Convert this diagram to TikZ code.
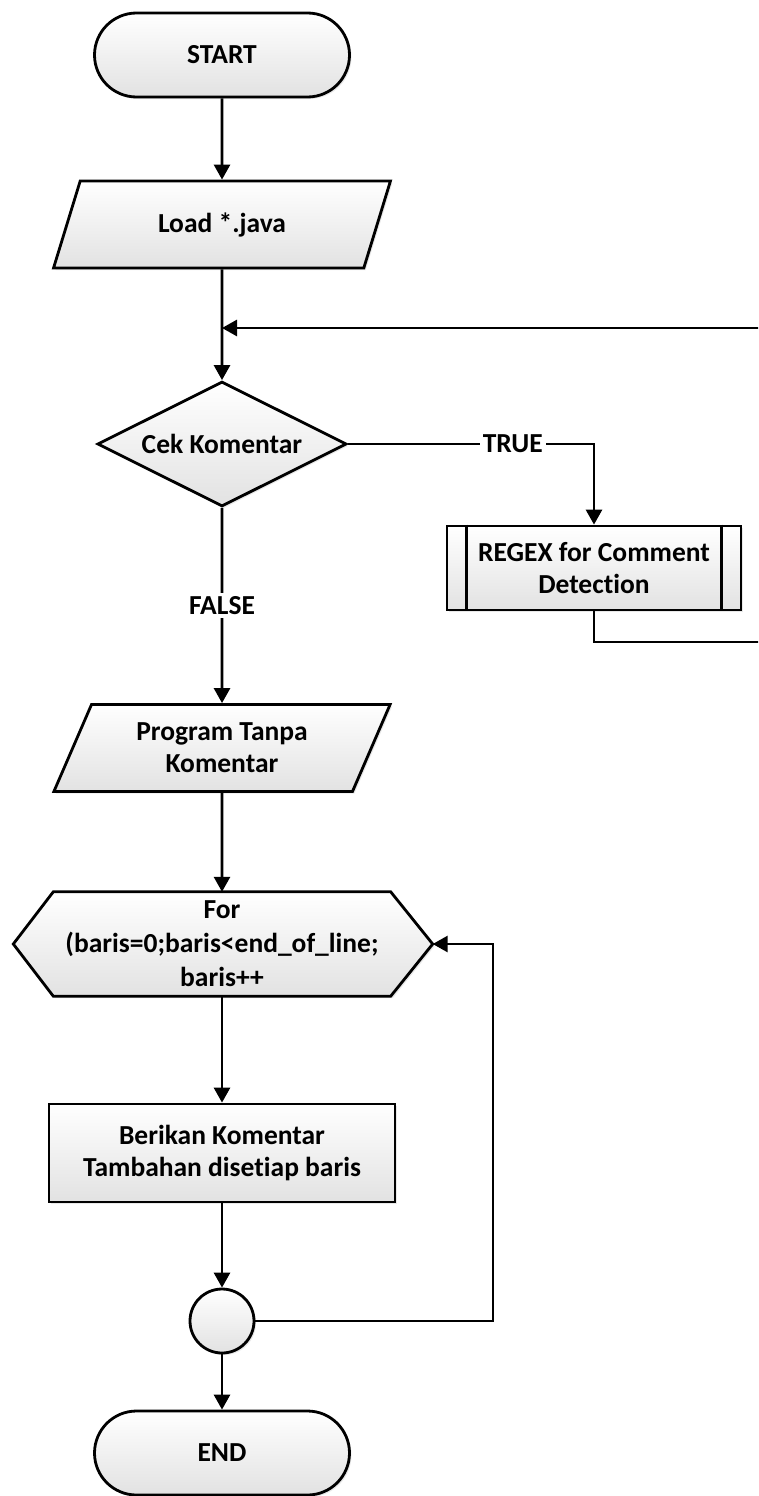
\documentclass[tikz,border=0pt]{standalone}
\usepackage{fontspec}
\setmainfont{Carlito}[Ligatures=NoCommon]
\usetikzlibrary{shapes.geometric,shadows,arrows.meta,backgrounds,calc}
\definecolor{boxgray}{RGB}{226,226,226}

\begin{document}
\begin{tikzpicture}[x=1pt,y=-1pt,
  font=\fontsize{27.5}{32}\selectfont\bfseries,
  outline/.style={draw=black, line width=2.8pt, top color=white, bottom color=boxgray,
    drop shadow={opacity=0.18, shadow xshift=2pt, shadow yshift=-2pt}},
  box/.style={outline, align=center, inner sep=0pt},
  terminal/.style={box, rounded corners=42pt, minimum width=255pt, minimum height=84pt},
  io/.style={box, trapezium, trapezium left angle=63.7, trapezium right angle=116.3,
    trapezium stretches=true, minimum width=337pt, minimum height=87pt},
  decision/.style={box, diamond, aspect=2, minimum width=249pt, minimum height=125pt},
  process/.style={box, minimum width=346pt, minimum height=98pt},
  predef/.style={box, minimum width=294pt, minimum height=84pt},
  junction/.style={box, circle, minimum size=64pt},
  arr/.style={line width=2.8pt, -{Triangle[length=15pt,width=16pt]}},
  lbl/.style={fill=white, inner sep=3pt}
]
\useasboundingbox (0,0) rectangle (758,1496);
\clip (0,0) rectangle (758,1496);

% flowchart nodes
\node[terminal] (start) at (222,55) {START};
\node[io] (load) at (222,224.5) {Load *.java};
\coordinate (join) at (222,328);
\node[decision] (cek) at (222,444) {Cek Komentar};
\node[predef] (regex) at (594,568) {REGEX for Comment\\Detection};
\draw[line width=2.8pt] ([xshift=21pt]regex.north west) -- ([xshift=21pt]regex.south west)
  ([xshift=-21pt]regex.north east) -- ([xshift=-21pt]regex.south east);
\node[io] (prog) at (222,748) {Program Tanpa\\Komentar};

% loop header (hexagon)
\node[align=center, inner sep=0pt, minimum width=337pt, minimum height=104pt,
  font=\fontsize{27.5}{34}\selectfont\bfseries] (loop) at (222,944)
  {For\\(baris=0;baris<end\_of\_line;\\baris++};
\coordinate (hexE) at ($(loop.east)+(42,0)$);
\coordinate (hexW) at ($(loop.west)+(-40,0)$);
\begin{scope}[on background layer]
  \path[outline] (loop.north west) -- (loop.north east) -- (hexE)
    -- (loop.south east) -- (loop.south west) -- (hexW) -- cycle;
\end{scope}

\node[process] (beri) at (222,1153) {Berikan Komentar\\Tambahan disetiap baris};
\node[junction] (jc) at (222,1321) {};
\node[terminal] (end) at (222,1453) {END};

% connectors
\draw[arr] (start) -- (load);
\draw[arr] (load) -- (cek);
\draw[arr] (cek.east) -| node[lbl, pos=0.335] {TRUE} (regex.north);
\coordinate (rx) at (775,642);
\draw[arr] (regex.south) |- (rx) |- (join);
\draw[arr] (cek.south) -- node[lbl] {FALSE} (prog.north);
\draw[arr] (prog) -- (loop.north);
\draw[arr] (loop.south) -- (beri);
\draw[arr] (beri) -- (jc);
\draw[arr] (jc) -- (end);
\coordinate (lp) at (493,944);
\draw[arr] (jc.east) -| (lp) -- (hexE);
\end{tikzpicture}
\end{document}
